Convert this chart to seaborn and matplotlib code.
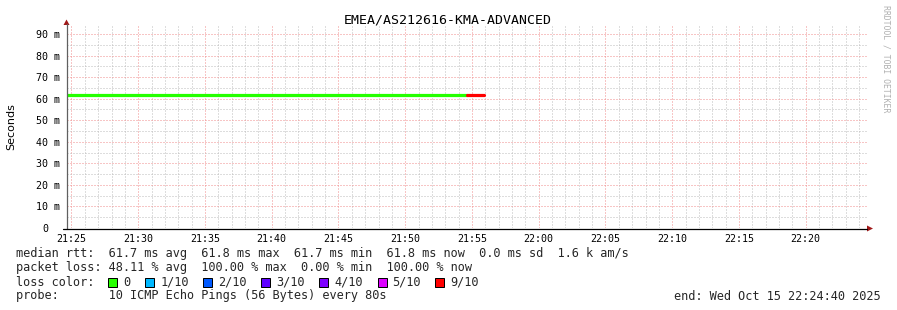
import matplotlib
matplotlib.use("Agg")
import matplotlib.pyplot as plt
import matplotlib.dates as mdates
from matplotlib.patches import Rectangle, Polygon
from matplotlib.lines import Line2D
import seaborn as sns
import pandas as pd

# ---------------- data ----------------
title = "EMEA/AS212616-KMA-ADVANCED"
day = "2025-10-15"
view_start = "21:24:40"
view_end = "22:24:40"

sample_start = ["21:23:56", "21:25:16", "21:26:36", "21:27:56", "21:29:16", "21:30:36",
                "21:31:56", "21:33:16", "21:34:36", "21:35:56", "21:37:16", "21:38:36",
                "21:39:56", "21:41:16", "21:42:36", "21:43:56", "21:45:16", "21:46:36",
                "21:47:56", "21:49:16", "21:50:36", "21:51:56", "21:53:16", "21:54:36"]
series_end = "21:55:56"
median_ms = [61.8, 61.6, 61.8, 61.8, 61.8, 61.6, 61.6, 61.6, 61.8, 61.6, 61.6, 61.6,
             61.6, 61.6, 61.8, 61.6, 61.8, 61.8, 61.8, 61.8, 61.6, 61.6, 61.8, 61.8]
loss_of_10 = [0] * 23 + [9]

y_ticks_ms = [0, 10, 20, 30, 40, 50, 60, 70, 80, 90]
y_max_ms = 94.2
x_tick_labels = ["21:25", "21:30", "21:35", "21:40", "21:45", "21:50", "21:55",
                 "22:00", "22:05", "22:10", "22:15", "22:20"]

loss_levels = [0, 1, 2, 3, 4, 5, 9]
loss_labels = ["0", "1/10", "2/10", "3/10", "4/10", "5/10", "9/10"]
loss_colors = ["#26ff00", "#00b8ff", "#0059ff", "#5e00ff", "#7e00ff", "#dd00ff", "#ff0000"]

row_median = "median rtt:  61.7 ms avg  61.8 ms max  61.7 ms min  61.8 ms now  0.0 ms sd  1.6 k am/s"
row_loss = "packet loss: 48.11 % avg  100.00 % max  0.00 % min  100.00 % now"
row_color = "loss color:"
row_probe = "probe:       10 ICMP Echo Pings (56 Bytes) every 80s"
end_text = "end: Wed Oct 15 22:24:40 2025"
watermark = "RRDTOOL / TOBI OETIKER"
y_label = "Seconds"

# ---------------- layout ----------------
W, H = 897, 310
L, R, T, B = 67, 868, 25, 228
legend_box_x = [107.5, 145, 203.3, 261, 319.3, 377.7, 435]
legend_text_x = [123, 160.5, 218.3, 276, 334, 392.5, 450]

sns.set_style("white")
plt.rcParams['font.family'] = ['DejaVu Sans Mono', 'DejaVu Sans']

def ts(s):
    return pd.Timestamp(f"{day} {s}")

fig = plt.figure(figsize=(W / 100, H / 100), dpi=100)
fig.patch.set_facecolor("white")
ax = fig.add_axes([L / W, (H - B) / H, (R - L) / W, (B - T) / H])
ax.set_facecolor("white")

# median line, coloured by loss, drawn as steps
starts = [ts(s) for s in sample_start]
ends = starts[1:] + [ts(series_end)]
color_of = dict(zip(loss_levels, loss_colors))
n = len(starts)
i = 0
while i < n:
    j = i
    while j + 1 < n and loss_of_10[j + 1] == loss_of_10[i]:
        j += 1
    xs = starts[i:j + 1] + [ends[j]]
    ys = median_ms[i:j + 1] + [median_ms[j]]
    df = pd.DataFrame({"t": xs, "ms": ys})
    sns.lineplot(data=df, x="t", y="ms", ax=ax, drawstyle="steps-post",
                 color=color_of[loss_of_10[i]], linewidth=2.3, estimator=None,
                 sort=False, zorder=5)
    i = j + 1

ax.set_xlim(ts(view_start), ts(view_end))
ax.set_ylim(0, y_max_ms)
ax.set_xlabel("")
ax.set_ylabel("")

ax.set_xticks([ts(s + ":00") for s in x_tick_labels])
ax.set_xticklabels(x_tick_labels)
ax.xaxis.set_minor_locator(mdates.MinuteLocator(interval=1))
ax.set_yticks(y_ticks_ms)
ax.set_yticklabels([("0" if v == 0 else f"{v} m") for v in y_ticks_ms])
ax.set_yticks([v + 5 for v in y_ticks_ms if v + 5 < y_max_ms], minor=True)

ax.grid(which="minor", color="#bdbdbd", linestyle=(0, (1, 2)), linewidth=0.72, zorder=0)
ax.grid(which="major", color="#f08c8c", linestyle=(0, (1, 2)), linewidth=0.72, zorder=1)
ax.set_axisbelow(True)

ax.tick_params(axis="y", which="major", length=2.5, width=0.72, color="#f08c8c",
               pad=2.2, labelsize=7.2, labelcolor="black")
ax.tick_params(axis="x", which="major", length=1.5, width=0.72, color="#444444",
               pad=2.5, labelsize=7.2, labelcolor="black")
ax.tick_params(which="minor", length=0)
ax.yaxis.get_major_ticks()[0].set_pad(2.2 + 12 * 0.72)

for sp in ax.spines.values():
    sp.set_visible(False)

# overlay in pixel coordinates for frame, arrows and text
ov = fig.add_axes([0, 0, 1, 1], facecolor="none")
ov.set_xlim(0, W)
ov.set_ylim(H, 0)
ov.axis("off")

ov.add_line(Line2D([66.5, 66.5], [229, 24], color="#606060", linewidth=0.9))
ov.add_line(Line2D([63, 867], [228.5, 228.5], color="#000000", linewidth=0.9))
ov.add_patch(Polygon([[63.5, 25], [69.5, 25], [66.5, 19.5]], closed=True,
                     color="#a01818", linewidth=0))
ov.add_patch(Polygon([[867, 225.5], [867, 231.5], [873, 228.5]], closed=True,
                     color="#a01818", linewidth=0))

ov.text(447.5, 20, title, ha="center", va="center", fontsize=9.5, color="black")
ov.text(11, 127, y_label, ha="center", va="center", rotation=90, fontsize=8,
        family="DejaVu Sans", color="black")
ov.text(886, 5, watermark, ha="center", va="top", rotation=-90, fontsize=5.9,
        color="#b0b0b0")

rows_y = [254, 268, 282, 296]
tfs = 8.55
ov.text(16, rows_y[0], row_median, ha="left", va="center", fontsize=tfs)
ov.text(16, rows_y[1], row_loss, ha="left", va="center", fontsize=tfs)
ov.text(16, rows_y[2], row_color, ha="left", va="center", fontsize=tfs)
ov.text(16, rows_y[3], row_probe, ha="left", va="center", fontsize=tfs)
ov.text(881, rows_y[3], end_text, ha="right", va="center", fontsize=tfs)

for bx, tx, lab, col in zip(legend_box_x, legend_text_x, loss_labels, loss_colors):
    ov.add_patch(Rectangle((bx, 277.7), 9, 9.5, facecolor=col, edgecolor="black",
                           linewidth=0.72))
    ov.text(tx, rows_y[2], lab, ha="left", va="center", fontsize=tfs)

fig.savefig("out.png", dpi=100, facecolor="white")
